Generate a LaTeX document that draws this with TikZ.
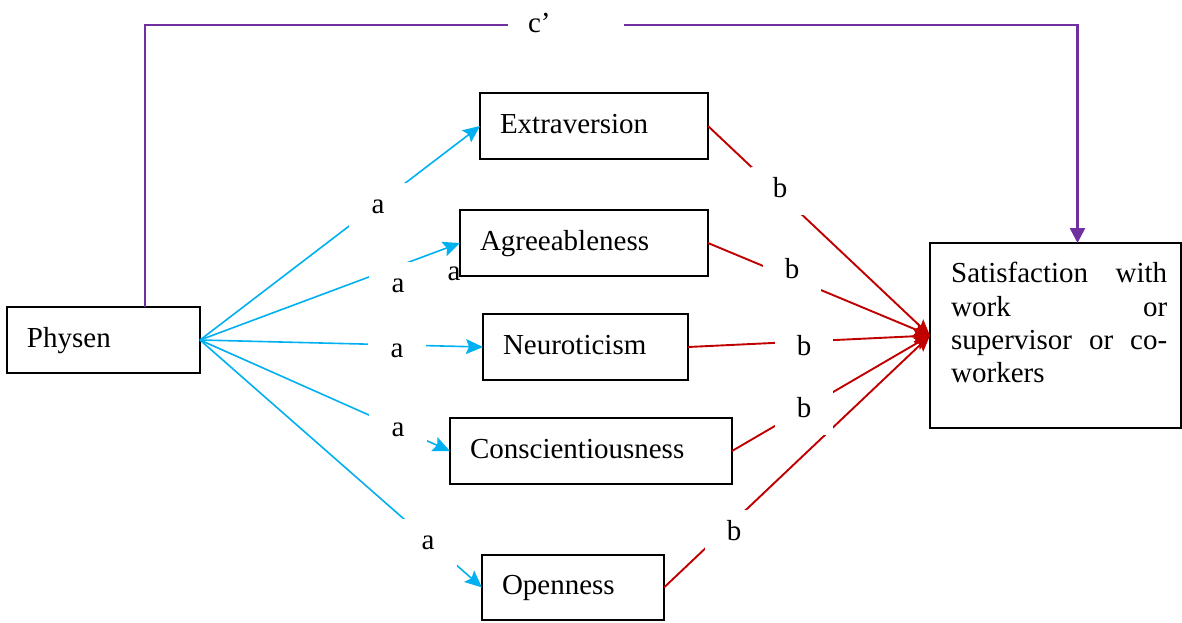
\documentclass[tikz,border=0pt]{standalone}
\usepackage{fontspec}
\setmainfont{Liberation Serif}
\usetikzlibrary{arrows.meta}
\definecolor{pathblue}{RGB}{0,176,240}
\definecolor{pathred}{RGB}{192,0,0}
\definecolor{pathpurple}{RGB}{112,48,160}

\begin{document}
\begin{tikzpicture}[x=1pt,y=-1pt,
  txt/.style={font=\fontsize{29}{33.4}\selectfont},
  var/.style={txt, draw=black, line width=1.8pt, rectangle, outer sep=0pt,
    inner xsep=20pt, inner ysep=0pt, minimum height=66pt, align=left,
    text height=20pt, text depth=6pt},
  outcome/.style={draw=black, line width=1.8pt, rectangle, outer sep=0pt, inner sep=0pt},
  apath/.style={draw=pathblue, line width=1.6pt, -{Stealth[length=17pt,width=15pt,inset=3pt]}},
  bpath/.style={draw=pathred, line width=1.9pt, -{Stealth[length=16pt,width=14pt,inset=3pt]}},
  cpath/.style={draw=pathpurple, line width=2.6pt, -{Triangle[length=15pt,width=15pt]}},
  coef/.style={txt, fill=white, inner sep=0pt, minimum width=58pt, minimum height=48pt,
    text height=13pt, text depth=0pt},
]
\useasboundingbox (0,0) rectangle (1182,622);

% predictor, mediators and outcome
\node[var, text width=153pt] (phys)  at (103.5,340) {Physen};
\node[var, text width=188pt] (extra) at (594,126)   {Extraversion};
\node[var, text width=208pt] (agree) at (584,243)   {Agreeableness};
\node[var, text width=165pt] (neuro) at (585.5,347) {Neuroticism};
\node[var, text width=242pt] (consc) at (591,451)   {Conscientiousness};
\node[var, text width=142pt, minimum height=65pt] (open) at (573,587.5) {Openness};
\node[outcome, minimum width=251pt, minimum height=185pt] (sat) at (1055.5,335.5) {};
\node[txt, anchor=north west, inner sep=0pt, text width=216pt, align=left] (satText) at (951,262)
  {\makebox[216pt]{Satisfaction\hfill with}\\
   \makebox[216pt]{work\hfill or}\\
   \makebox[216pt]{supervisor\hfill or\hfill co-}\\
   workers};

% a paths
\foreach \m in {extra,agree,neuro,consc,open}
  \draw[apath] (phys.east) -- (\m.west);

% b paths
\foreach \m in {extra,agree,neuro,consc,open}
  \draw[bpath] (\m.east) -- (sat.west);

% direct path c'
\coordinate (cL) at (145,25);
\coordinate (cR) at (1077.5,25);
\draw[cpath] (cL |- phys.north) -- (cL) -- (cR) -- (cR |- sat.north);

% coefficient labels
\node[coef] (la1) at (378,207) {a};
\node[coef] (la2) at (398,285.5) {a};
\node[coef] (la3) at (397,350.5) {a};
\node[coef] (la4) at (398,429.5) {a};
\node[coef] (la5) at (428,542.5) {a};
\node[coef] (lb1) at (780,190.5) {b};
\node[coef] (lb2) at (792,271.5) {b};
\node[coef] (lb3) at (804,348.5) {b};
\node[coef] (lb4) at (804,410.5) {b};
\node[coef] (lb5) at (734,533.5) {b};
\node[coef, minimum width=0pt, minimum height=40pt, text width=76pt, inner xsep=20pt, align=left]
  (lc) at (566,25.5) {c’};
\node[txt, inner sep=0pt, text height=13pt, text depth=0pt] (la2x) at (454,273.5) {a};
\end{tikzpicture}
\end{document}
